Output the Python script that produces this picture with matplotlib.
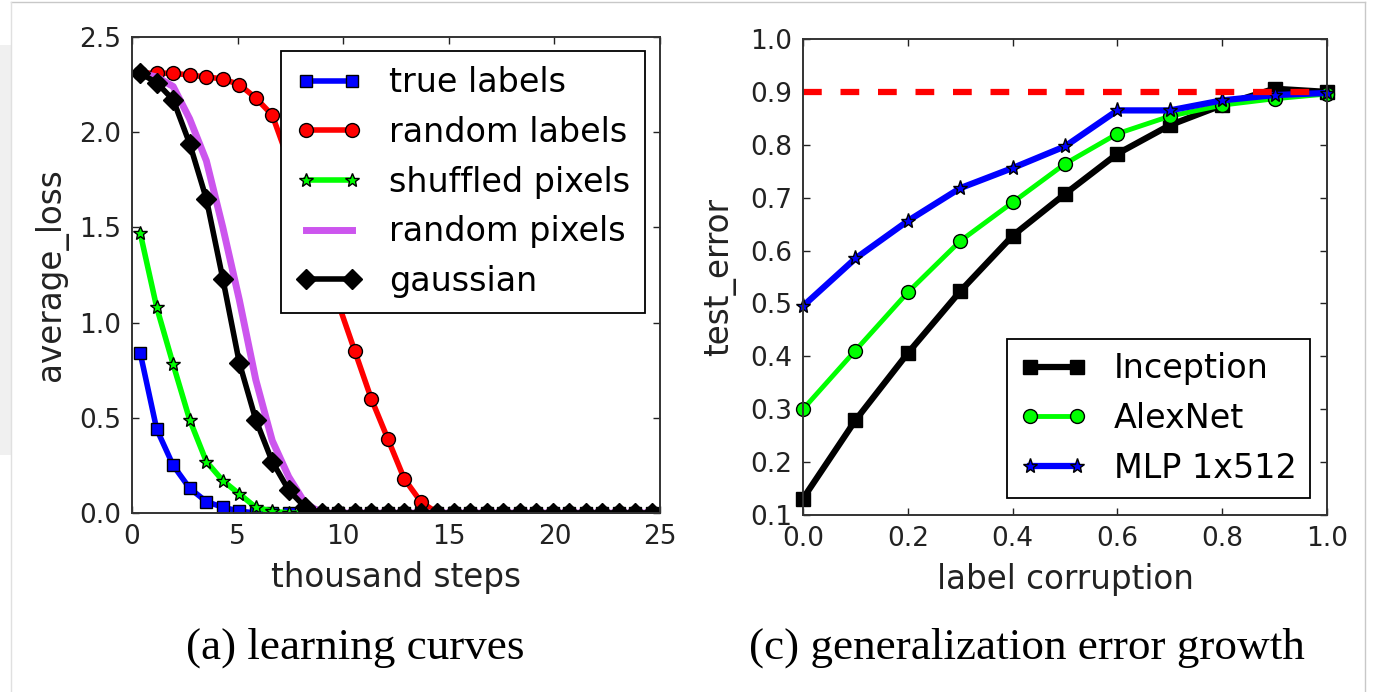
import matplotlib
matplotlib.use('Agg')
import matplotlib.pyplot as plt
from matplotlib.lines import Line2D
from matplotlib.patches import Rectangle

# (a) learning curves -- x in thousand steps (one point per epoch)
steps_k = [0.39, 1.17, 1.95, 2.73, 3.52, 4.30, 5.08, 5.86, 6.64, 7.42, 8.20,
           8.98, 9.77, 10.55, 11.33, 12.11, 12.89, 13.67, 14.45, 15.23, 16.02,
           16.80, 17.58, 18.36, 19.14, 19.92, 20.70, 21.48, 22.27, 23.05,
           23.83, 24.61]
true_labels = [0.84, 0.44, 0.25, 0.13, 0.06, 0.03, 0.01] + [0.0] * 25
random_labels = [2.31, 2.31, 2.31, 2.30, 2.29, 2.28, 2.25, 2.18, 2.09, 1.85,
                 1.60, 1.35, 1.10, 0.85, 0.60, 0.39, 0.18, 0.06] + [0.0] * 14
shuffled_pixels = [1.47, 1.08, 0.78, 0.49, 0.27, 0.17, 0.10, 0.03, 0.01] + [0.0] * 23
random_pixels = [2.31, 2.29, 2.24, 2.07, 1.85, 1.50, 1.12, 0.70, 0.38, 0.19,
                 0.05] + [0.0] * 21
gaussian = [2.31, 2.26, 2.17, 1.94, 1.65, 1.23, 0.79, 0.49, 0.27, 0.12,
            0.03] + [0.0] * 21

# (c) generalization error growth
corruption = [0.0, 0.1, 0.2, 0.3, 0.4, 0.5, 0.6, 0.7, 0.8, 0.9, 1.0]
inception = [0.131, 0.279, 0.406, 0.523, 0.628, 0.707, 0.783, 0.837, 0.875, 0.906, 0.900]
alexnet = [0.300, 0.411, 0.521, 0.618, 0.691, 0.764, 0.821, 0.854, 0.875, 0.887, 0.896]
mlp = [0.495, 0.585, 0.656, 0.718, 0.756, 0.797, 0.865, 0.865, 0.884, 0.894, 0.898]
chance = 0.9

plt.rcParams['font.family'] = 'DejaVu Sans'
plt.rcParams['legend.numpoints'] = 2

W, H = 1378, 692
fig = plt.figure(figsize=(W / 100, H / 100), dpi=100)
fig.patch.set_facecolor('white')


def px_axes(l, t, r, b):
    return fig.add_axes([l / W, 1 - b / H, (r - l) / W, (b - t) / H])


def style(ax):
    ax.tick_params(direction='in', length=5, width=1, top=True, right=True,
                   labelsize=19, pad=8, colors='#222222')
    for s in ax.spines.values():
        s.set_linewidth(1.4)
        s.set_color('#333333')


# left panel
ax1 = px_axes(132, 37, 660, 513)
ax1.plot(steps_k, true_labels, '-s', color='#0000ff', lw=4, ms=9, mec='k',
         mew=1, label='true labels')
ax1.plot(steps_k, random_labels, '-o', color='#ff0000', lw=4, ms=10, mec='k',
         mew=1, label='random labels')
ax1.plot(steps_k, shuffled_pixels, '-*', color='#00ff00', lw=4, ms=10, mec='k',
         mew=1, label='shuffled pixels')
ax1.plot(steps_k, random_pixels, '-', color='#cc55ee', lw=5, label='random pixels')
ax1.plot(steps_k, gaussian, '-D', color='k', lw=4, ms=10, mec='k', mew=1,
         label='gaussian')
ax1.set_xlim(0, 25)
ax1.set_ylim(0, 2.5)
ax1.set_xticks([0, 5, 10, 15, 20, 25])
ax1.set_yticks([0.0, 0.5, 1.0, 1.5, 2.0, 2.5])
ax1.set_yticklabels(['0.0', '0.5', '1.0', '1.5', '2.0', '2.5'])
ax1.set_xlabel('thousand steps', fontsize=23.5, color='#222222')
ax1.set_ylabel('average_loss', fontsize=23.5, color='#222222')
ax1.xaxis.set_label_coords(0.5, -0.1)
ax1.yaxis.set_label_coords(-0.122, 0.5)
style(ax1)
leg1 = ax1.legend(loc='upper right', bbox_to_anchor=(0.972, 0.970),
                  borderaxespad=0, fontsize=24, fancybox=False,
                  edgecolor='k', framealpha=1, handlelength=2.0,
                  handletextpad=0.8, labelspacing=0.5, borderpad=0.45)
leg1.get_frame().set_linewidth(1.3)

# right panel
ax2 = px_axes(803, 39, 1327, 515)
ax2.plot(corruption, inception, '-s', color='k', lw=4.5, ms=10, mec='k',
         mew=1, label='Inception', clip_on=False)
ax2.plot(corruption, alexnet, '-o', color='#00ff00', lw=3.5, ms=10, mec='k',
         mew=1, label='AlexNet', clip_on=False)
ax2.plot(corruption, mlp, '-*', color='#0000ff', lw=4.5, ms=11, mec='k',
         mew=1, label='MLP 1x512', clip_on=False)
ax2.plot([0, 1], [chance, chance], '--', color='#ff0000', lw=4.5,
         dashes=(3, 3))
ax2.set_xlim(0, 1)
ax2.set_ylim(0.1, 1.0)
ax2.set_xticks([0.0, 0.2, 0.4, 0.6, 0.8, 1.0])
ax2.set_xticklabels(['0.0', '0.2', '0.4', '0.6', '0.8', '1.0'])
ax2.set_yticks([0.1, 0.2, 0.3, 0.4, 0.5, 0.6, 0.7, 0.8, 0.9, 1.0])
ax2.set_yticklabels(['0.1', '0.2', '0.3', '0.4', '0.5', '0.6', '0.7', '0.8',
                     '0.9', '1.0'])
ax2.set_xlabel('label corruption', fontsize=23.5, color='#222222')
ax2.set_ylabel('test_error', fontsize=23.5, color='#222222')
ax2.xaxis.set_label_coords(0.5, -0.1)
ax2.yaxis.set_label_coords(-0.127, 0.5)
style(ax2)
leg2 = ax2.legend(loc='lower right', bbox_to_anchor=(0.9676, 0.0357),
                  borderaxespad=0, fontsize=24, fancybox=False,
                  edgecolor='k', framealpha=1, handlelength=2.0,
                  handletextpad=0.8, labelspacing=0.5, borderpad=0.4)
leg2.get_frame().set_linewidth(1.3)

# captions
fig.text(355 / W, 1 - 648 / H, '(a) learning curves', ha='center',
         va='center', fontsize=32.5, family='Liberation Serif')
fig.text(1027 / W, 1 - 648 / H, '(c) generalization error growth',
         ha='center', va='center', fontsize=32.5, family='Liberation Serif')

# screenshot frame bits
fig.add_artist(Rectangle((0, 1 - 455 / H), 11 / W, 410 / H,
                         transform=fig.transFigure, color='#f0f0f0', lw=0))
fig.add_artist(Line2D([11 / W, 1365 / W], [1 - 2 / H, 1 - 2 / H],
                      transform=fig.transFigure, color='#c8c8c8', lw=1))
fig.add_artist(Line2D([11 / W, 11 / W], [0, 1 - 2 / H],
                      transform=fig.transFigure, color='#e0e0e0', lw=1))
fig.add_artist(Line2D([1365 / W, 1365 / W], [0, 1 - 2 / H],
                      transform=fig.transFigure, color='#c8c8c8', lw=1))

fig.savefig('out.png', dpi=100)
